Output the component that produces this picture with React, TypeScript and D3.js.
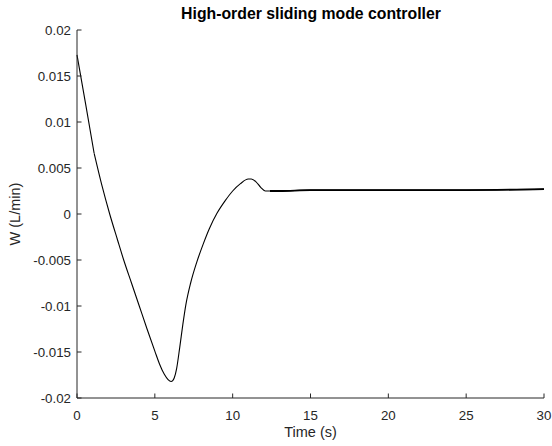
import React from "react";
import * as d3 from "d3";

const timeS = [0, 0.55, 1.1, 1.6, 2.1, 2.6, 3.0, 3.5, 4.0, 4.5, 5.0, 5.3, 5.6, 5.85, 6.04, 6.15, 6.25, 6.4, 6.6, 6.8, 7.0, 7.3, 7.7, 8.1, 8.5, 9.0, 9.5, 10.0, 10.5, 11.0, 11.2, 11.5, 11.8, 12.1, 12.4, 12.7, 13, 15, 20, 25, 30];
const flowW = [0.0173, 0.0120, 0.0066, 0.0031, 0.0, -0.0028, -0.005, -0.0075, -0.0100, -0.0125, -0.0149, -0.0163, -0.0174, -0.0180, -0.0182, -0.0181, -0.0178, -0.0168, -0.0145, -0.0120, -0.0098, -0.0075, -0.0052, -0.0033, -0.0016, 0.0001, 0.0014, 0.0025, 0.0033, 0.0038, 0.0038, 0.0035, 0.0029, 0.0025, 0.0025, 0.0025, 0.0025, 0.0026, 0.0026, 0.0026, 0.0027];
const xTicks = [0, 5, 10, 15, 20, 25, 30];
const yTicks = [-0.02, -0.015, -0.01, -0.005, 0, 0.005, 0.01, 0.015, 0.02];
const title = "High-order sliding mode controller";
const xLabel = "Time (s)";
const yLabel = "W (L/min)";

export default function App() {
  const W = 552, H = 446;
  const left = 77, right = 544, top = 30, bottom = 398;
  const x = d3.scaleLinear().domain([0, 30]).range([left, right]);
  const y = d3.scaleLinear().domain([-0.02, 0.02]).range([bottom, top]);
  const data = timeS.map((t, i) => [t, flowW[i]] as [number, number]);
  const line = d3.line<[number, number]>().x(d => x(d[0])).y(d => y(d[1])).curve(d3.curveMonotoneX);
  const seg1 = data.filter(d => d[0] <= 1.1);
  const seg2 = data.filter(d => d[0] >= 1.1);
  const flat = data.filter(d => d[0] >= 12.4);
  const axisColor = "#262626";
  const font = "'Liberation Sans', Arial, Helvetica, sans-serif";
  const yFmt = (v: number) => (v === 0 ? "0" : String(+v.toFixed(3)));
  return (
    <svg width={W} height={H} style={{ position: "absolute", left: 0, top: 0, background: "#fff" }} fontFamily={font}>
      <rect x={0} y={0} width={W} height={H} fill="#fff" />
      <path d={line(seg1) || ""} fill="none" stroke="#000" strokeWidth={1.1} />
      <path d={line(seg2) || ""} fill="none" stroke="#000" strokeWidth={1.1} />
      <path d={line(flat) || ""} fill="none" stroke="#000" strokeWidth={1.8} />
      <line x1={left} x2={left} y1={top} y2={bottom} stroke={axisColor} strokeWidth={1} />
      <line x1={left} x2={right} y1={bottom} y2={bottom} stroke={axisColor} strokeWidth={1} />
      {yTicks.map(v => (
        <g key={"y" + v}>
          <line x1={left} x2={left + 4.5} y1={y(v)} y2={y(v)} stroke={axisColor} />
          <text x={left - 6} y={y(v) + 4.6} textAnchor="end" fontSize={13.3} fill={axisColor}>{yFmt(v)}</text>
        </g>
      ))}
      {xTicks.map(v => (
        <g key={"x" + v}>
          <line x1={x(v)} x2={x(v)} y1={bottom} y2={bottom - 4.5} stroke={axisColor} />
          <text x={x(v)} y={420} textAnchor="middle" fontSize={13.3} fill={axisColor}>{v}</text>
        </g>
      ))}
      <text x={(left + right) / 2} y={437} textAnchor="middle" fontSize={14.5} fill={axisColor}>{xLabel}</text>
      <text transform={`translate(20,${(top + bottom) / 2}) rotate(-90)`} textAnchor="middle" fontSize={14.5} fill={axisColor}>{yLabel}</text>
      <text x={311} y={19} textAnchor="middle" fontSize={15.8} fontWeight="bold" fill="#000">{title}</text>
    </svg>
  );
}
